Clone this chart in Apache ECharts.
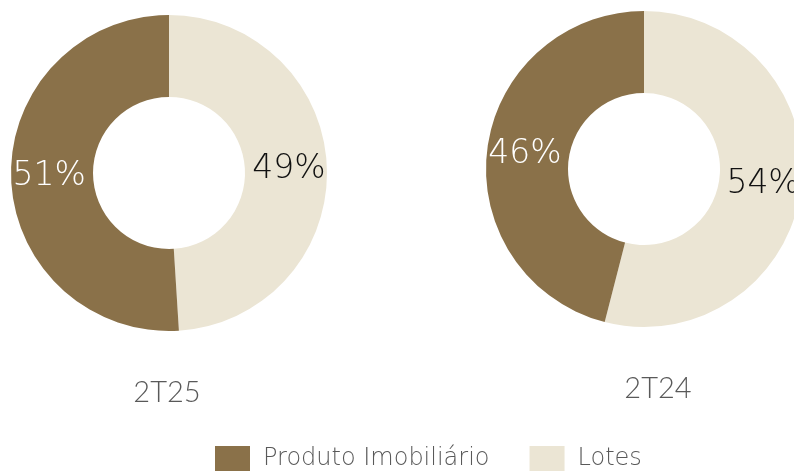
<!DOCTYPE html>
<html>
<head>
<meta charset="utf-8">
<script src="https://cdn.jsdelivr.net/npm/echarts@6/dist/echarts.min.js"></script>
<style>
  html, body { margin: 0; padding: 0; background: #ffffff; }
  #chart { width: 794px; height: 471px; }
</style>
</head>
<body>
<div id="chart"></div>
<script>
// Share of sales by product type, per quarter
const periods = ['2T25', '2T24'];
const categories = ['Lotes', 'Produto Imobiliário'];
const lotesShare = [49, 54];
const produtoShare = [51, 46];

const colors = { 'Lotes': '#EBE5D4', 'Produto Imobiliário': '#8A7149' };
const labelColors = { 'Lotes': '#111111', 'Produto Imobiliário': '#ffffff' };
const centers = [[169, 173], [644, 169]];
const titlePos = [[162, 373], [653, 369]];
const wideFont = '"DejaVu Sans", sans-serif';
const titleFont = 'Lato, "Open Sans", sans-serif';

const series = periods.map((p, i) => ({
  name: p,
  type: 'pie',
  center: centers[i],
  radius: [76, 158],
  startAngle: 90,
  clockwise: true,
  avoidLabelOverlap: false,
  silent: true,
  label: {
    show: true,
    position: 'inside',
    formatter: '{c}%',
    fontFamily: wideFont,
    fontSize: 33,
    fontWeight: 200
  },
  labelLine: { show: false },
  itemStyle: { borderWidth: 0 },
  data: [
    { name: categories[0], value: lotesShare[i] },
    { name: categories[1], value: produtoShare[i] }
  ].map(d => ({
    ...d,
    itemStyle: { color: colors[d.name] },
    label: { color: labelColors[d.name] }
  }))
}));

const chart = echarts.init(document.getElementById('chart'), null, { renderer: 'canvas' });
chart.setOption({
  animation: false,
  backgroundColor: '#ffffff',
  title: periods.map((p, i) => ({
    text: p,
    left: titlePos[i][0],
    top: titlePos[i][1],
    textAlign: 'center',
    textStyle: { color: '#595959', fontFamily: titleFont, fontSize: 29, fontWeight: 300 }
  })),
  legend: {
    data: ['Produto Imobiliário', 'Lotes'],
    left: 210,
    top: 441,
    itemWidth: 35,
    itemHeight: 25,
    itemGap: 40,
    icon: 'rect',
    textStyle: {
      color: '#595959', fontFamily: wideFont, fontSize: 24, fontWeight: 200,
      padding: [0, 0, 0, 8]
    },
    selectedMode: false
  },
  series: series
});
</script>
</body>
</html>
